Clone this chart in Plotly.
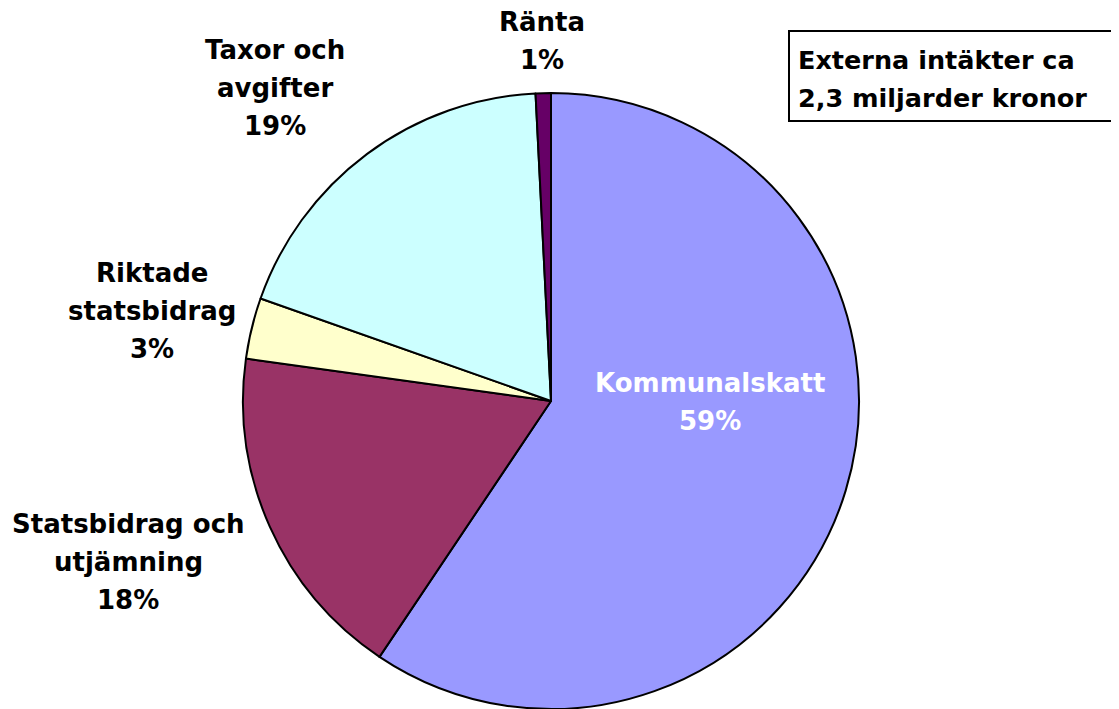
import plotly.graph_objects as go

categories = ["Kommunalskatt", "Statsbidrag och utjämning", "Riktade statsbidrag", "Taxor och avgifter", "Ränta"]
label_lines = [["Kommunalskatt"], ["Statsbidrag och", "utjämning"], ["Riktade", "statsbidrag"], ["Taxor och", "avgifter"], ["Ränta"]]
values = [59.4, 17.8, 3.2, 18.8, 0.8]
colors = ["#9999FF", "#993366", "#FFFFCC", "#CCFFFF", "#660066"]
box_lines = ["Externa intäkter ca", "2,3 miljarder kronor"]

W, H = 1119, 709
OFF = 8  # page body margin


def px(x):
    return (x - OFF) / W


def py(y):
    return 1 - (y - OFF) / H


fig = go.Figure(go.Pie(
    labels=categories, values=values, sort=False, direction="clockwise", rotation=0,
    marker=dict(colors=colors, line=dict(color="black", width=2)),
    textinfo="none", hoverinfo="label+percent",
    domain=dict(x=[px(243), px(859)], y=[py(709), py(93)]),
    showlegend=False,
))

label_pos = [(710, 402, "white"), (128, 562, "black"), (152, 311, "black"), (275, 88, "black"), (542, 41, "black")]
LH = 38
FS = 26
total = sum(values)
anns = []
for cat_lines, v, (cx, cy, col) in zip(label_lines, values, label_pos):
    lines = cat_lines + [f"{round(100 * v / total)}%"]
    n = len(lines)
    for i, t in enumerate(lines):
        y = cy + (i - (n - 1) / 2) * LH
        anns.append(dict(x=px(cx), y=py(y), xref="paper", yref="paper", text=t, showarrow=False,
                         xanchor="center", yanchor="middle",
                         font=dict(family="DejaVu Sans", size=FS, color=col, weight="bold")))
for i, t in enumerate(box_lines):
    y = 60 + i * 38
    anns.append(dict(x=px(796), y=py(y), xref="paper", yref="paper", text=t, showarrow=False,
                     xanchor="left", yanchor="middle",
                     font=dict(family="DejaVu Sans", size=25.5, color="black", weight="bold")))

fig.update_layout(
    width=W, height=H, margin=dict(l=0, r=0, t=0, b=0),
    paper_bgcolor="white", plot_bgcolor="white",
    annotations=anns,
    shapes=[dict(type="rect", xref="paper", yref="paper", x0=px(789), x1=px(1112),
                 y0=py(121), y1=py(31), line=dict(color="black", width=2))],
)
fig.write_html("out.html")
